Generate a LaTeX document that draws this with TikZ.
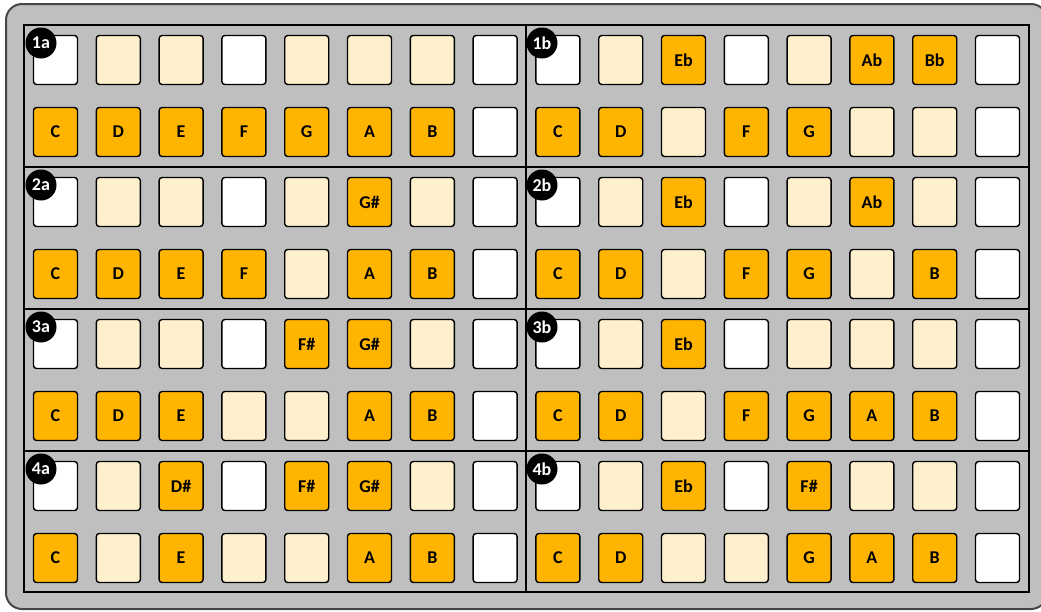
\documentclass[tikz,border=0pt]{standalone}
\usepackage{fontspec}
\setmainfont{Carlito}
\definecolor{padorange}{RGB}{255,180,0}
\definecolor{padlight}{RGB}{255,240,205}
\definecolor{panelgray}{RGB}{191,191,191}
\definecolor{rimgray}{RGB}{70,70,70}
\newcommand\padrow[4]{%
  \foreach \c/\lab [count=\i from 0] in {#4} {
    \node[c\c] (#1-\i) at ({55.5+62.8*(\i+#2)},#3) {\lab};
  }}
\begin{document}
\begin{tikzpicture}[x=1pt,y=-1pt,
  pad/.style={draw=black,line width=1.4pt,rounded corners=3pt,minimum width=44pt,minimum height=49pt,inner sep=0pt,font=\bfseries\fontsize{18}{18}\selectfont},
  cw/.style={pad,fill=white},
  cl/.style={pad,fill=padlight},
  co/.style={pad,fill=padorange},
  badge/.style={circle,fill=black,minimum size=31pt,inner sep=0pt,text=white,font=\bfseries\fontsize{18}{18}\selectfont},
  frame/.style={draw=black,line width=2pt}]
\useasboundingbox (0,0) rectangle (1041,611);
\filldraw[fill=panelgray,draw=rimgray,line width=2pt,rounded corners=16pt] (6,4) rectangle (1047,609);
\draw[frame] (24,25) rectangle (1029,592);
\draw[frame] (526,25) -- (526,592);
\foreach \yy in {167,309,451} \draw[frame] (24,\yy) -- (1029,\yy);
% section 1
\padrow{s1a-t}{0}{60}{w/{},l/{},l/{},w/{},l/{},l/{},l/{},w/{}}
\padrow{s1a-b}{0}{132}{o/C,o/D,o/E,o/F,o/G,o/A,o/B,w/{}}
\padrow{s1b-t}{8}{60}{w/{},l/{},o/Eb,w/{},l/{},o/Ab,o/Bb,w/{}}
\padrow{s1b-b}{8}{132}{o/C,o/D,l/{},o/F,o/G,l/{},l/{},w/{}}
% section 2
\padrow{s2a-t}{0}{202}{w/{},l/{},l/{},w/{},l/{},o/G\#,l/{},w/{}}
\padrow{s2a-b}{0}{274}{o/C,o/D,o/E,o/F,l/{},o/A,o/B,w/{}}
\padrow{s2b-t}{8}{202}{w/{},l/{},o/Eb,w/{},l/{},o/Ab,l/{},w/{}}
\padrow{s2b-b}{8}{274}{o/C,o/D,l/{},o/F,o/G,l/{},o/B,w/{}}
% section 3
\padrow{s3a-t}{0}{344}{w/{},l/{},l/{},w/{},o/F\#,o/G\#,l/{},w/{}}
\padrow{s3a-b}{0}{416}{o/C,o/D,o/E,l/{},l/{},o/A,o/B,w/{}}
\padrow{s3b-t}{8}{344}{w/{},l/{},o/Eb,w/{},l/{},l/{},l/{},w/{}}
\padrow{s3b-b}{8}{416}{o/C,o/D,l/{},o/F,o/G,o/A,o/B,w/{}}
% section 4
\padrow{s4a-t}{0}{486}{w/{},l/{},o/D\#,w/{},o/F\#,o/G\#,l/{},w/{}}
\padrow{s4a-b}{0}{558}{o/C,l/{},o/E,l/{},l/{},o/A,o/B,w/{}}
\padrow{s4b-t}{8}{486}{w/{},l/{},o/Eb,w/{},o/F\#,l/{},l/{},w/{}}
\padrow{s4b-b}{8}{558}{o/C,o/D,l/{},l/{},o/G,o/A,o/B,w/{}}
% badges
\node[badge] (b1a) at (41,43) {1a};
\node[badge] (b1b) at (542,43) {1b};
\node[badge] (b2a) at (41,185) {2a};
\node[badge] (b2b) at (542,185) {2b};
\node[badge] (b3a) at (41,327) {3a};
\node[badge] (b3b) at (542,327) {3b};
\node[badge] (b4a) at (41,469) {4a};
\node[badge] (b4b) at (542,469) {4b};
\end{tikzpicture}
\end{document}
